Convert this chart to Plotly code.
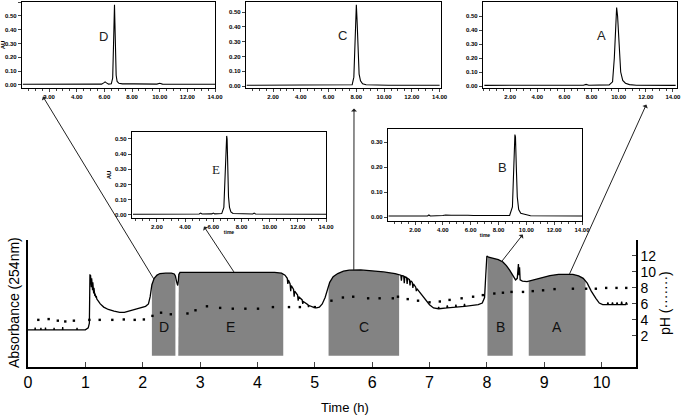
import numpy as np
import plotly.graph_objects as go

W, H = 685, 416
FONT = "Liberation Sans Narrow, Liberation Sans, Arial, sans-serif"

# ---------------- main chromatogram (absorbance, drawn in pH-axis units) ----------------
abs_time = [0.00, 0.12, 0.125, 0.13, 0.22, 0.225, 0.23, 0.30, 0.305, 0.31, 0.45, 0.455, 0.46,
            0.60, 0.605, 0.61, 0.85, 0.855, 0.86, 1.00, 1.03, 1.05, 1.07, 1.075, 1.08, 1.085,
            1.09, 1.095, 1.10, 1.105, 1.11, 1.115, 1.12, 1.125, 1.13, 1.135, 1.14, 1.145, 1.15,
            1.155, 1.16, 1.165, 1.17, 1.18, 1.19, 1.20, 1.22, 1.26, 1.32, 1.40, 1.50, 1.60, 1.68,
            1.75, 1.85, 1.95, 2.05, 2.10, 2.13,
            2.16, 2.20, 2.25, 2.30, 2.40, 2.50, 2.55, 2.57, 2.59, 2.61, 2.62, 2.63, 2.65, 2.80,
            3.00, 3.50, 4.00, 4.30, 4.42, 4.48, 4.52, 4.53, 4.54, 4.57, 4.58, 4.59, 4.63, 4.64,
            4.65, 4.70, 4.71, 4.72, 4.78, 4.79, 4.80, 4.88, 4.89, 4.90, 4.97, 5.03, 5.08, 5.13,
            5.18, 5.22, 5.26, 5.32, 5.40, 5.50, 5.60, 5.80, 6.00, 6.20, 6.40, 6.47, 6.50, 6.51,
            6.52, 6.55, 6.56, 6.57, 6.60, 6.61, 6.62, 6.65, 6.66, 6.67, 6.70, 6.71, 6.72, 6.76,
            6.77, 6.78, 6.85, 6.92, 7.00, 7.07, 7.15, 7.16, 7.17, 7.30, 7.31, 7.32, 7.45, 7.46,
            7.47, 7.60, 7.61, 7.62, 7.75, 7.85, 7.92, 7.96, 7.98, 8.00, 8.03, 8.10, 8.20, 8.28,
            8.34, 8.40, 8.45, 8.50, 8.53, 8.54, 8.55, 8.56, 8.57, 8.58, 8.62, 8.70, 8.80, 8.95,
            9.10, 9.25, 9.40, 9.50, 9.60, 9.68, 9.75, 9.82, 9.90, 9.96, 10.02, 10.10, 10.11,
            10.12, 10.18, 10.19, 10.20, 10.26, 10.27, 10.28, 10.34, 10.35, 10.36, 10.42, 10.43,
            10.45]
abs_value = [2.75, 2.75, 3.05, 2.75, 2.75, 3.0, 2.75, 2.75, 3.05, 2.75, 2.75, 3.0, 2.75,
             2.75, 3.1, 2.75, 2.75, 3.0, 2.75, 2.75, 2.9, 3.0, 3.6, 9.2, 9.7, 8.7,
             9.6, 8.4, 9.4, 8.1, 9.2, 7.9, 9.0, 7.7, 8.7, 7.5, 8.4, 7.3, 8.0,
             7.1, 7.7, 7.0, 7.3, 6.8, 7.0, 6.6, 6.4, 6.0, 5.6, 5.3, 5.1, 4.95, 4.95,
             5.1, 5.3, 5.5, 5.7, 6.0, 6.9,
             8.4, 9.2, 9.6, 9.8, 9.85, 9.85, 9.75, 9.5, 8.8, 8.3, 8.8, 9.7, 9.95, 9.95,
             9.95, 10.0, 10.0, 9.95, 9.85, 9.6, 9.2, 8.5, 9.0, 8.5, 7.6, 8.3, 7.8, 6.9,
             7.6, 7.1, 6.4, 6.9, 6.5, 6.0, 6.3, 5.9, 5.6, 5.8, 5.6, 5.5, 5.6, 6.0,
             6.8, 7.8, 8.7, 9.4, 9.8, 10.1, 10.22, 10.25, 10.15, 10.0, 9.8, 9.7, 9.6, 8.9,
             9.55, 9.5, 8.6, 9.4, 9.3, 8.5, 9.2, 9.05, 8.3, 8.9, 8.7, 8.0, 8.5, 8.1,
             7.6, 7.9, 7.3, 6.6, 5.9, 5.5, 5.4, 5.6, 5.4, 5.5, 5.8, 5.5, 5.6, 5.9,
             5.6, 5.7, 6.0, 5.7, 5.8, 5.9, 6.1, 6.8, 9.5, 12.0, 11.85, 11.75, 11.55, 11.25,
             10.8, 10.2, 9.5, 9.0, 9.2, 10.5, 11.0, 9.6, 10.6, 9.0, 8.85, 8.8, 9.0, 9.3,
             9.55, 9.7, 9.75, 9.7, 9.5, 9.2, 8.6, 7.6, 6.7, 6.1, 5.9, 5.9, 6.2,
             5.9, 5.9, 6.2, 5.9, 5.9, 6.2, 5.9, 5.9, 6.3, 5.9, 5.9, 6.2,
             5.9]

ph_time = [0.18, 0.36, 0.52, 0.65, 0.80, 1.07, 1.25, 1.47, 1.67, 1.86, 2.02, 2.17, 2.32, 2.49,
           2.78, 2.92, 3.12, 3.35, 3.57, 3.79, 4.01, 4.27, 4.55, 4.74, 5.00, 5.29, 5.49, 5.67,
           5.93, 6.13, 6.36, 6.45, 6.62, 6.80, 7.00, 7.18, 7.35, 7.56, 7.76, 7.93, 8.13, 8.28,
           8.43, 8.63, 8.80, 8.98, 9.18, 9.50, 9.73, 9.90, 10.08, 10.26, 10.43]
ph_value = [4.0, 4.1, 3.9, 3.8, 3.9, 4.0, 4.0, 4.0, 4.05, 4.0, 4.05, 4.5, 4.9, 4.7,
            4.8, 5.2, 5.7, 5.5, 5.4, 5.4, 5.4, 5.6, 5.6, 5.6, 5.6, 6.4, 6.8, 6.9,
            6.7, 6.7, 6.7, 6.9, 6.6, 6.4, 6.2, 6.3, 6.5, 6.7, 6.9, 7.1, 7.3, 7.4,
            7.5, 7.5, 7.6, 7.7, 7.85, 7.9, 7.9, 7.9, 8.0, 8.0, 8.0]

fraction_names = ["D", "E", "C", "B", "A"]
fraction_start = [2.16, 2.62, 5.24, 8.01, 8.73]
fraction_end = [2.57, 4.45, 6.47, 8.45, 9.72]
fraction_floor = -0.5

x_ticks = list(range(0, 11))
ph_ticks = [2, 4, 6, 8, 10, 12]

# ---------------- HPLC insets ----------------
D_t = [0.1, 5.8, 5.95, 6.05, 6.15, 6.3, 6.5, 6.6, 6.65, 6.7, 6.73, 6.76, 6.8, 6.85, 6.92, 7.05,
       7.3, 7.9, 8.0, 8.1, 9.8, 10.0, 10.2, 14.0]
D_v = [0.005, 0.006, 0.015, 0.022, 0.015, 0.006, 0.008, 0.05, 0.25, 0.55, 0.58, 0.45, 0.2, 0.07,
       0.025, 0.012, 0.008, 0.008, 0.012, 0.008, 0.006, 0.012, 0.006, 0.005]
C_t = [0.1, 6.9, 7.0, 7.1, 7.7, 7.82, 7.9, 7.96, 8.0, 8.05, 8.12, 8.2, 8.3, 8.45, 8.7, 9.5,
       10.0, 10.3, 14.0]
C_v = [0.005, 0.006, 0.01, 0.006, 0.008, 0.06, 0.3, 0.5, 0.55, 0.45, 0.2, 0.08, 0.035, 0.015,
       0.008, 0.006, 0.009, 0.005, 0.005]
A_t = [0.1, 7.4, 7.6, 7.8, 9.3, 9.55, 9.68, 9.78, 9.85, 9.92, 10.02, 10.15, 10.3, 10.5, 10.8,
       11.3, 14.2]
A_v = [0.005, 0.006, 0.012, 0.006, 0.008, 0.03, 0.2, 0.5, 0.56, 0.5, 0.28, 0.1, 0.04, 0.02,
       0.01, 0.006, 0.005]
E_t = [0.3, 5.0, 5.1, 5.2, 5.9, 6.0, 6.1, 6.6, 6.75, 6.85, 6.9, 6.95, 6.98, 7.02, 7.08, 7.15,
       7.25, 7.4, 8.8, 8.9, 9.0, 14.0]
E_v = [0.005, 0.006, 0.012, 0.006, 0.007, 0.012, 0.007, 0.009, 0.05, 0.32, 0.33, 0.52, 0.5,
       0.3, 0.12, 0.05, 0.02, 0.01, 0.006, 0.012, 0.006, 0.005]
B_t = [0.1, 2.9, 3.0, 3.1, 4.0, 4.2, 4.6, 5.0, 5.4, 5.8, 6.2, 8.8, 9.0, 9.1, 9.18, 9.22, 9.28,
       9.35, 9.45, 9.6, 9.8, 10.0, 10.3, 14.0]
B_v = [0.004, 0.004, 0.008, 0.004, 0.006, 0.008, 0.007, 0.008, 0.006, 0.007, 0.006, 0.006,
       0.04, 0.2, 0.33, 0.32, 0.2, 0.08, 0.03, 0.015, 0.012, 0.008, 0.005, 0.004]
inset_x_ticks = [2, 4, 6, 8, 10, 12, 14]

# -------------- geometry (pixels) --------------
main_x = (28, 636)
main_y = (240, 367)
main_xrange = [0, 10.6]
main_yrange = [-1.9, 14.0]

insets = [
    ("D", D_t, D_v, 22, 215, 2, 88, [0.04, 14.0], [-0.022, 0.6], [0, .1, .2, .3, .4, .5, .6], (5.9, 0.35), True, False),
    ("C", C_t, C_v, 246, 441, 2, 88, [0.05, 14.1], [-0.0135, 0.568], [0, .1, .2, .3, .4, .5], (7.0, 0.34), False, False),
    ("A", A_t, A_v, 483, 677, 2, 88, [0.0, 14.3], [-0.014, 0.6], [0, .1, .2, .3, .4, .5], (8.75, 0.36), False, False),
    ("E", E_t, E_v, 132, 326, 132, 218, [0.23, 14.0], [-0.02, 0.546], [0, .1, .2, .3, .4, .5], (6.2, 0.30), True, True),
    ("B", B_t, B_v, 388, 582, 129, 221, [0.06, 14.0], [-0.016, 0.352], [0, .1, .2, .3], (8.3, 0.2), False, True),
]

connectors = {"D": (2.195, 42, 95), "E": (3.59, 203, 225), "C": (5.68, 354, 107),
              "B": (8.26, 524, 233), "A": (9.44, 647, 103)}


def px(xp):
    return xp / W


def py(yp):
    return 1 - yp / H


fig = go.Figure()

at = np.array(abs_time)
av = np.array(abs_value)
for name, s, e in zip(fraction_names, fraction_start, fraction_end):
    m = (at > s) & (at < e)
    xs = [s, s] + list(at[m]) + [e, e]
    ys = [fraction_floor, float(np.interp(s, at, av))] + list(av[m]) + [float(np.interp(e, at, av)), fraction_floor]
    fig.add_trace(go.Scatter(x=xs, y=ys, fill="toself", fillcolor="#838383", mode="lines",
                             line=dict(width=0, color="#838383"), xaxis="x", yaxis="y",
                             hoverinfo="skip", showlegend=False))

fig.add_trace(go.Scatter(x=abs_time, y=abs_value, mode="lines", line=dict(color="black", width=1.3),
                         xaxis="x", yaxis="y", showlegend=False))
fig.add_trace(go.Scatter(x=ph_time, y=ph_value, mode="markers",
                         marker=dict(color="black", size=2.4, symbol="square"),
                         xaxis="x", yaxis="y2", showlegend=False))

annotations = []
for name, s, e in zip(fraction_names, fraction_start, fraction_end):
    annotations.append(dict(x=(s + e) / 2, y=3.1, xref="x", yref="y", text=name, showarrow=False,
                            xanchor="center", yanchor="middle",
                            font=dict(size=14, family=FONT, color="#111")))

layout = dict(
    width=W, height=H, margin=dict(l=0, r=0, t=0, b=0, autoexpand=False),
    paper_bgcolor="white", plot_bgcolor="white", showlegend=False,
    font=dict(family=FONT, color="black"),
    xaxis=dict(domain=[px(main_x[0]), px(main_x[1])], range=main_xrange, tickvals=x_ticks,
               ticks="inside", ticklen=5, tickwidth=1.2, showline=True, linewidth=1.5, linecolor="black",
               showgrid=False, zeroline=False, tickfont=dict(size=16, family=FONT), anchor="y",
               automargin=False),
    yaxis=dict(domain=[py(main_y[1]), py(main_y[0])], range=main_yrange, showline=True, linewidth=1.5,
               linecolor="black", showgrid=False, zeroline=False, showticklabels=False, ticks="",
               anchor="x", automargin=False),
    yaxis2=dict(overlaying="y", side="right", range=main_yrange, tickvals=ph_ticks, ticks="inside",
                ticklen=4, showline=True, linewidth=1.5, linecolor="black", showgrid=False,
                zeroline=False, tickfont=dict(size=14, family=FONT), anchor="x", automargin=False),
)

for i, (name, t, v, x0, x1, y0, y1, xr, yr, yt, lab, show_au, show_time) in enumerate(insets):
    k = i + 3
    xa, ya = f"x{k}", f"y{k}"
    fig.add_trace(go.Scatter(x=t, y=v, mode="lines", line=dict(color="black", width=1.1),
                             xaxis=xa, yaxis=ya, showlegend=False))
    layout[f"xaxis{k}"] = dict(domain=[px(x0), px(x1)], range=xr, anchor=ya, tickvals=inset_x_ticks,
                               tickformat=".2f", ticks="outside", ticklen=3, tickwidth=1,
                               minor=dict(dtick=0.5, ticks="outside", ticklen=2, tickwidth=0.8),
                               showline=True, mirror=True, linewidth=1.3, linecolor="black",
                               showgrid=False, zeroline=False, automargin=False,
                               tickfont=dict(size=6, family="Liberation Sans", weight="bold"),
                               ticklabelstandoff=0)
    layout[f"yaxis{k}"] = dict(domain=[py(y1), py(y0)], range=yr, anchor=xa, tickvals=yt,
                               tickformat=".2f", ticks="outside", ticklen=3, tickwidth=1,
                               showline=True, mirror=True, linewidth=1.3, linecolor="black",
                               showgrid=False, zeroline=False, automargin=False,
                               tickfont=dict(size=6, family="Liberation Sans", weight="bold"))
    if show_au:
        layout[f"yaxis{k}"]["title"] = dict(text="AU", font=dict(size=6, family="Liberation Sans",
                                                                  weight="bold"), standoff=2)
    if show_time:
        layout[f"xaxis{k}"]["title"] = dict(text="time", font=dict(size=5, family="Liberation Sans",
                                                                    weight="bold"), standoff=1)
    serif = name == "E"
    annotations.append(dict(x=lab[0], y=lab[1], xref=xa, yref=ya, text=name, showarrow=False,
                            xanchor="center", yanchor="middle",
                            font=dict(size=13, family="Liberation Serif" if serif else FONT,
                                      color="#222")))

for name, (tc, hx, hy) in connectors.items():
    yc = float(np.interp(tc, at, av))
    tx = W * (px(main_x[0]) + (tc - main_xrange[0]) / (main_xrange[1] - main_xrange[0]) * (px(main_x[1]) - px(main_x[0])))
    ty = main_y[0] + (main_yrange[1] - yc) / (main_yrange[1] - main_yrange[0]) * (main_y[1] - main_y[0])
    annotations.append(dict(x=tc, y=yc, xref="x", yref="y", ax=hx - tx, ay=hy - ty, text="",
                            showarrow=True, arrowside="start", arrowhead=2, arrowsize=0.9,
                            arrowwidth=1, arrowcolor="#222", standoff=0, startstandoff=0))

annotations.append(dict(x=px(345), y=py(407), xref="paper", yref="paper", text="Time (h)",
                        xanchor="center", yanchor="middle",
                        showarrow=False, font=dict(size=13, family=FONT)))
annotations.append(dict(x=px(14), y=py(303), xref="paper", yref="paper", text="Absorbance (254nm)",
                        xanchor="center", yanchor="middle",
                        textangle=-90, showarrow=False, font=dict(size=14, family=FONT)))
annotations.append(dict(x=px(665), y=py(303), xref="paper", yref="paper", text="pH (·······)",
                        xanchor="center", yanchor="middle",
                        textangle=-90, showarrow=False, font=dict(size=14, family=FONT)))

layout["annotations"] = annotations
fig.update_layout(**layout)
fig.write_html("out.html", config={"displayModeBar": False},
               post_script="document.body.style.margin='0';document.body.style.overflow='hidden';")
